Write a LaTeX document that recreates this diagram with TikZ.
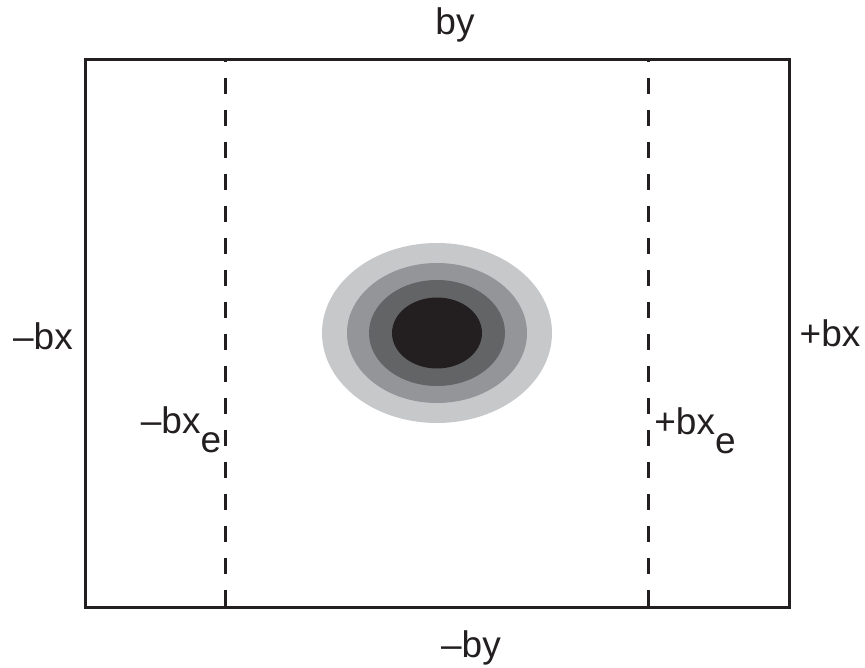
\documentclass[tikz,border=0pt]{standalone}
\usepackage{fontspec}
\setmainfont{Liberation Sans}
\usepackage{tikz}
\usetikzlibrary{positioning}
\definecolor{ink}{HTML}{231F20}
\definecolor{haloA}{HTML}{C7C8CA}
\definecolor{haloB}{HTML}{939598}
\definecolor{haloC}{HTML}{636466}
\definecolor{haloD}{HTML}{231F20}

\begin{document}
\begin{tikzpicture}[x=1pt,y=-1pt, lbl/.style={font=\fontsize{37}{40}\selectfont,text=ink,inner sep=0pt,anchor=base}, boxline/.style={draw=ink,line width=3pt}, cutline/.style={draw=ink,line width=3pt,dash pattern=on 16pt off 16pt,dash phase=14pt}]
\useasboundingbox (0,0) rectangle (865,668);
\coordinate (nw) at (85,60); \coordinate (se) at (789,607);
\coordinate (lt) at (225,60); \coordinate (lb) at (225,607);
\coordinate (rt) at (648.5,60); \coordinate (rb) at (648.5,607);
\coordinate (c) at (437,333);
% nested contours
\foreach \rx/\ry/\col in {115/90/haloA,90/70/haloB,68/53/haloC,45/35.5/haloD}
  \fill[\col] (c) ellipse [x radius=\rx pt, y radius=\ry pt];
\draw[cutline] (lt) -- (lb);
\draw[cutline] (rt) -- (rb);
\draw[boxline] (nw) rectangle (se);
\node[lbl] (by) at (455,35) {by};
\node[lbl] (mby) at (471,657) {–by};
\node[lbl] (mbx) at (43,349) {–bx};
\node[lbl] (pbx) at (830,347) {+bx};
\node[lbl] (mbxe) at (181,433) {–bx\raisebox{-0.52em}{e}};
\node[lbl] (pbxe) at (695,434) {+bx\raisebox{-0.52em}{e}};
\end{tikzpicture}
\end{document}
